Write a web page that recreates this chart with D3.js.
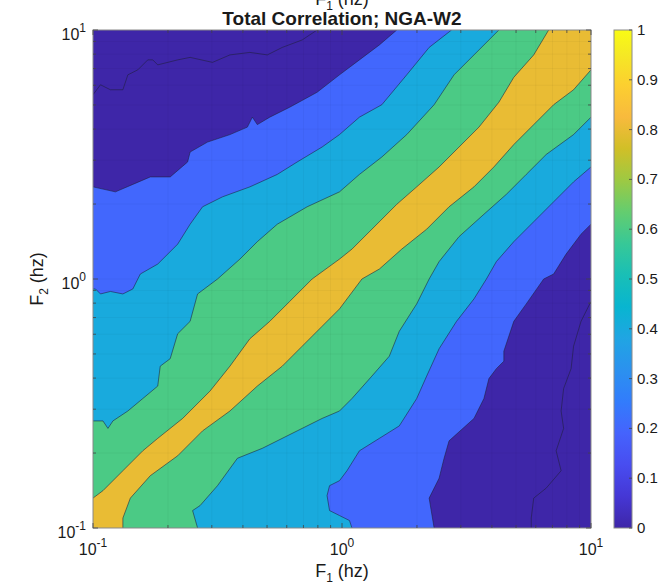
<!DOCTYPE html>
<html>
<head>
<meta charset="utf-8">
<title>Total Correlation; NGA-W2</title>
<style>
  html, body { margin: 0; padding: 0; background: #fff; }
  svg { display: block; }
  text { font-family: "Liberation Sans", Arial, Helvetica, sans-serif; fill: #1a1a1a; }
</style>
</head>
<body>
<svg id="chart" width="669" height="586"></svg>
<script src="https://d3js.org/d3.v7.min.js"></script>
<script>
// contour levels drawn (band colour = colormap at lower level)
const levels = [0, 0.2, 0.4, 0.6, 0.8];
const cbarTicks = [0, 0.1, 0.2, 0.3, 0.4, 0.5, 0.6, 0.7, 0.8, 0.9, 1];
const freqTicks = [0.1, 1, 10];
const tickExp = ["-1", "0", "1"];

// parula colormap stops
const parulaPos = [0, 0.0635, 0.127, 0.19, 0.254, 0.317, 0.381, 0.444, 0.508, 0.571, 0.635, 0.698, 0.762, 0.825, 0.889, 0.952, 1];
const parulaHex = ["#3E26A8", "#4537D5", "#484DF0", "#4563FD", "#327CFC", "#2B91EF", "#20A5E3", "#08B5D0", "#19BFB6",
                   "#37C897", "#64CD6F", "#9DC943", "#D1BF27", "#F8BA3D", "#FCCF30", "#F5E924", "#F9FB15"];

// contour lines, points are [log10 F1, log10 F2]
// "upper" lines run from the left edge to the top edge, "lower" from the bottom edge to the right edge
const upper00 = [[-1,0.74],[-0.97,0.78],[-0.93,0.76],[-0.88,0.76],[-0.86,0.82],[-0.82,0.84],[-0.78,0.88],[-0.76,0.88],[-0.74,0.86],
  [-0.66,0.88],[-0.61,0.89],[-0.52,0.87],[-0.45,0.90],[-0.37,0.91],[-0.30,0.90],[-0.24,0.93],[-0.16,0.96],[-0.10,1]];
const lower00 = [[0.76,-1],[0.76,-0.96],[0.77,-0.88],[0.82,-0.84],[0.88,-0.77],[0.86,-0.69],[0.89,-0.60],[0.88,-0.53],
  [0.89,-0.44],[0.92,-0.36],[0.93,-0.27],[0.96,-0.17],[1,-0.09]];
const upper02 = [[-1,0.37],[-0.91,0.35],[-0.84,0.38],[-0.77,0.41],[-0.69,0.41],[-0.62,0.47],[-0.61,0.51],[-0.54,0.55],
  [-0.45,0.58],[-0.38,0.61],[-0.36,0.65],[-0.34,0.62],[-0.29,0.65],[-0.21,0.69],[-0.10,0.75],[-0.01,0.82],[0.07,0.88],[0.15,0.94],[0.22,1]];
const lower02 = [[0.37,-1],[0.35,-0.88],[0.39,-0.80],[0.41,-0.72],[0.43,-0.65],[0.53,-0.56],[0.57,-0.48],[0.59,-0.40],
  [0.62,-0.36],[0.65,-0.33],[0.65,-0.29],[0.69,-0.17],[0.74,-0.10],[0.81,0],[0.85,0.02],[0.90,0.10],[0.96,0.18],[1,0.22]];
const upper04 = [[-1,-0.04],[-0.99,-0.04],[-0.97,-0.06],[-0.93,-0.05],[-0.88,-0.06],[-0.84,-0.04],[-0.81,0.02],[-0.74,0.06],
  [-0.66,0.14],[-0.61,0.22],[-0.56,0.29],[-0.48,0.33],[-0.37,0.37],[-0.26,0.42],[-0.18,0.47],[-0.08,0.53],[-0.01,0.58],
  [0.07,0.65],[0.16,0.70],[0.26,0.82],[0.35,0.93],[0.44,1]];
const lower04 = [[0.04,-1],[0.03,-0.97],[-0.01,-0.95],[-0.05,-0.93],[-0.06,-0.87],[-0.05,-0.83],[-0.01,-0.81],[0.02,-0.77],
  [0.07,-0.69],[0.15,-0.64],[0.23,-0.59],[0.30,-0.48],[0.34,-0.39],[0.39,-0.28],[0.46,-0.17],[0.53,-0.08],[0.58,0],
  [0.62,0.07],[0.69,0.15],[0.77,0.23],[0.85,0.31],[0.93,0.39],[1,0.45]];
const upper06 = [[-1,-0.57],[-0.96,-0.57],[-0.94,-0.60],[-0.92,-0.57],[-0.86,-0.53],[-0.80,-0.48],[-0.74,-0.43],[-0.73,-0.35],
  [-0.69,-0.32],[-0.66,-0.22],[-0.61,-0.17],[-0.58,-0.06],[-0.50,0],[-0.41,0.08],[-0.34,0.15],[-0.26,0.22],[-0.14,0.29],
  [-0.01,0.35],[0.07,0.42],[0.16,0.49],[0.26,0.58],[0.37,0.70],[0.45,0.82],[0.53,0.90],[0.63,1]];
const lower06 = [[-0.58,-1],[-0.60,-0.93],[-0.57,-0.91],[-0.50,-0.83],[-0.42,-0.72],[-0.32,-0.68],[-0.18,-0.61],[-0.08,-0.56],
  [-0.01,-0.53],[0.04,-0.48],[0.12,-0.39],[0.19,-0.31],[0.23,-0.21],[0.30,-0.10],[0.35,0],[0.39,0.07],[0.47,0.17],
  [0.57,0.26],[0.66,0.34],[0.74,0.42],[0.82,0.50],[0.93,0.58],[1,0.65]];
const upper08 = [[-1,-0.88],[-0.96,-0.85],[-0.88,-0.77],[-0.80,-0.69],[-0.74,-0.64],[-0.64,-0.56],[-0.53,-0.45],[-0.45,-0.35],
  [-0.37,-0.24],[-0.29,-0.17],[-0.21,-0.09],[-0.12,0],[-0.01,0.08],[0.04,0.12],[0.12,0.20],[0.22,0.30],[0.30,0.37],
  [0.39,0.45],[0.47,0.53],[0.55,0.61],[0.63,0.71],[0.69,0.81],[0.77,0.90],[0.83,1]];
const lower08 = [[-0.88,-1],[-0.88,-0.96],[-0.85,-0.88],[-0.77,-0.79],[-0.66,-0.71],[-0.56,-0.61],[-0.45,-0.53],[-0.34,-0.43],
  [-0.24,-0.35],[-0.16,-0.27],[-0.08,-0.19],[-0.01,-0.12],[0.08,0],[0.15,0.04],[0.24,0.12],[0.34,0.20],[0.43,0.29],
  [0.53,0.37],[0.61,0.45],[0.69,0.54],[0.77,0.62],[0.85,0.70],[0.93,0.76],[1,0.84]];

const uppers = [upper00, upper02, upper04, upper06, upper08];
const lowers = [lower00, lower02, lower04, lower06, lower08];

const svg = d3.select("#chart");
const pLeft = 93, pRight = 591, pTop = 30, pBottom = 528;

const x = d3.scaleLog().domain([0.1, 10]).range([pLeft, pRight]);
const y = d3.scaleLog().domain([0.1, 10]).range([pBottom, pTop]);
const parula = d3.scaleLinear().domain(parulaPos).range(parulaHex).interpolate(d3.interpolateRgb);

const toXY = p => [x(Math.pow(10, p[0])), y(Math.pow(10, p[1]))];
const line = d3.line();

svg.append("clipPath").attr("id", "plotclip")
  .append("rect").attr("x", pLeft).attr("y", pTop).attr("width", pRight - pLeft).attr("height", pBottom - pTop);

const plot = svg.append("g").attr("clip-path", "url(#plotclip)");

// lowest band fills everything
plot.append("rect")
  .attr("x", pLeft).attr("y", pTop).attr("width", pRight - pLeft).attr("height", pBottom - pTop)
  .attr("fill", parula(levels[0]));

// region >= level: upper line, top-right corner, lower line reversed, bottom-left corner
levels.forEach((lv, i) => {
  if (i === 0) return;
  const pts = uppers[i].map(toXY)
    .concat([[x(10), y(10)]])
    .concat(lowers[i].slice().reverse().map(toXY))
    .concat([[x(0.1), y(0.1)]]);
  plot.append("path")
    .attr("d", line(pts) + "Z")
    .attr("fill", parula(lv));
});

// faint grid at every decade and minor tick
const gridVals = [];
[0.1, 1].forEach(d => { for (let k = 1; k <= 9; k++) gridVals.push(d * k); });
gridVals.push(10);
const grid = plot.append("g").attr("stroke", "#000").attr("stroke-opacity", 0.035).attr("stroke-width", 1);
gridVals.forEach(v => {
  grid.append("line").attr("x1", x(v)).attr("x2", x(v)).attr("y1", pTop).attr("y2", pBottom);
  grid.append("line").attr("y1", y(v)).attr("y2", y(v)).attr("x1", pLeft).attr("x2", pRight);
});

// contour lines
levels.forEach((lv, i) => {
  [uppers[i], lowers[i]].forEach(arr => {
    plot.append("path")
      .attr("d", line(arr.map(toXY)))
      .attr("fill", "none")
      .attr("stroke", "#1f1f3a")
      .attr("stroke-opacity", 0.8)
      .attr("stroke-width", 0.7)
      .attr("stroke-linejoin", "round");
  });
});

// axes box and inward ticks on all four sides
const axisCol = "#8a8a8a";
svg.append("rect")
  .attr("x", pLeft).attr("y", pTop).attr("width", pRight - pLeft).attr("height", pBottom - pTop)
  .attr("fill", "none").attr("stroke", axisCol).attr("stroke-width", 1);

const ticks = svg.append("g").attr("stroke", "#444").attr("stroke-width", 0.8);
gridVals.forEach(v => {
  const len = freqTicks.includes(v) ? 5 : 3;
  ticks.append("line").attr("x1", x(v)).attr("x2", x(v)).attr("y1", pBottom).attr("y2", pBottom - len);
  ticks.append("line").attr("x1", x(v)).attr("x2", x(v)).attr("y1", pTop).attr("y2", pTop + len);
  ticks.append("line").attr("y1", y(v)).attr("y2", y(v)).attr("x1", pLeft).attr("x2", pLeft + len);
  ticks.append("line").attr("y1", y(v)).attr("y2", y(v)).attr("x1", pRight).attr("x2", pRight - len);
});

// tick labels 10^n
freqTicks.forEach((v, i) => {
  const tx = svg.append("text")
    .attr("x", x(v)).attr("y", pBottom + 27)
    .attr("text-anchor", "middle").attr("font-size", 16);
  tx.append("tspan").text("10");
  tx.append("tspan").attr("dy", -8).attr("font-size", 12).text(tickExp[i]);

  const ty = svg.append("text")
    .attr("x", pLeft - 7).attr("y", y(v) + 10)
    .attr("text-anchor", "end").attr("font-size", 16);
  ty.append("tspan").text("10");
  ty.append("tspan").attr("dy", -8).attr("font-size", 12).text(tickExp[i]);
});

// title and axis labels
svg.append("text")
  .attr("x", (pLeft + pRight) / 2).attr("y", 25)
  .attr("text-anchor", "middle").attr("font-size", 19).attr("font-weight", "bold")
  .text("Total Correlation; NGA-W2");

function freqLabel(g, idx) {
  g.append("tspan").text("F");
  g.append("tspan").attr("font-size", 12).attr("dy", 5).text(idx);
  g.append("tspan").attr("dy", -5).text(" (hz)");
}

freqLabel(svg.append("text")
  .attr("x", (pLeft + pRight) / 2).attr("y", 577)
  .attr("text-anchor", "middle").attr("font-size", 18), "1");

// clipped copy of the x label above the title
freqLabel(svg.append("text")
  .attr("x", (pLeft + pRight) / 2).attr("y", 5)
  .attr("text-anchor", "middle").attr("font-size", 18), "1");

freqLabel(svg.append("text")
  .attr("transform", `translate(43,${(pTop + pBottom) / 2}) rotate(-90)`)
  .attr("text-anchor", "middle").attr("font-size", 18), "2");

// colorbar
const cbX = 614, cbW = 18;
const cy = d3.scaleLinear().domain([0, 1]).range([pBottom, pTop]);
const grad = svg.append("defs").append("linearGradient")
  .attr("id", "parulaGrad").attr("x1", 0).attr("y1", 1).attr("x2", 0).attr("y2", 0);
parulaPos.forEach((p, i) => {
  grad.append("stop").attr("offset", p).attr("stop-color", parulaHex[i]);
});
svg.append("rect")
  .attr("x", cbX).attr("y", cy(1)).attr("width", cbW).attr("height", cy(0) - cy(1))
  .attr("fill", "url(#parulaGrad)").attr("stroke", axisCol).attr("stroke-width", 1);

cbarTicks.forEach(t => {
  svg.append("line")
    .attr("x1", cbX + cbW).attr("x2", cbX + cbW - 3)
    .attr("y1", cy(t)).attr("y2", cy(t))
    .attr("stroke", "#444").attr("stroke-width", 0.8);
  svg.append("text")
    .attr("x", cbX + cbW + 5).attr("y", cy(t) + 5)
    .attr("font-size", 15)
    .text(t === 0 || t === 1 ? String(t) : t.toFixed(1));
});
</script>
</body>
</html>
